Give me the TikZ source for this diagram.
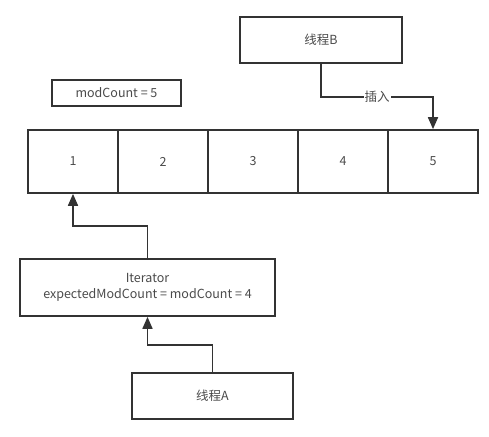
\documentclass[tikz,border=0pt]{standalone}
\usepackage{fontspec}
\setmainfont{Noto Sans CJK SC}
\usetikzlibrary{arrows.meta}
\definecolor{linegray}{HTML}{333333}
\definecolor{textgray}{HTML}{4A4A4A}
\tikzset{
  box/.style={draw=linegray,line width=1.7pt,inner sep=0pt},
  cellbox/.style={box,minimum width=90pt,minimum height=63pt},
  link/.style={draw=linegray,line width=1.7pt,-{Triangle[length=12pt,width=10pt]}},
}
\begin{document}
\begin{tikzpicture}[x=1pt,y=-1pt,font=\fontsize{12.5}{16}\selectfont,text=textgray]
  \useasboundingbox (0,0) rectangle (489,436);
  \node[box,minimum width=162pt,minimum height=46pt] (B) at (321,40) {线程B};
  \node[box,minimum width=129pt,minimum height=26pt] (mod) at (116.5,93) {modCount = 5};
  \foreach \i in {1,...,5}
    \node[cellbox] (c\i) at ({73+90*(\i-1)},161.5) {\i};
  \node[box,minimum width=255pt,minimum height=57pt,align=center] (it) at (147.5,287.5)
    {Iterator\\expectedModCount = modCount = 4};
  \node[box,minimum width=161pt,minimum height=46pt] (A) at (212.5,396) {线程A};
  \draw[link] (B.south) -- ++(0,33) -| node[pos=0.25,fill=white,inner sep=1pt] {插入} (c5.north);
  \draw[link] (it.north) -- ++(0,-32) -| (c1.south);
  \draw[link] (A.north) -- ++(0,-27) -| (it.south);
\end{tikzpicture}
\end{document}
